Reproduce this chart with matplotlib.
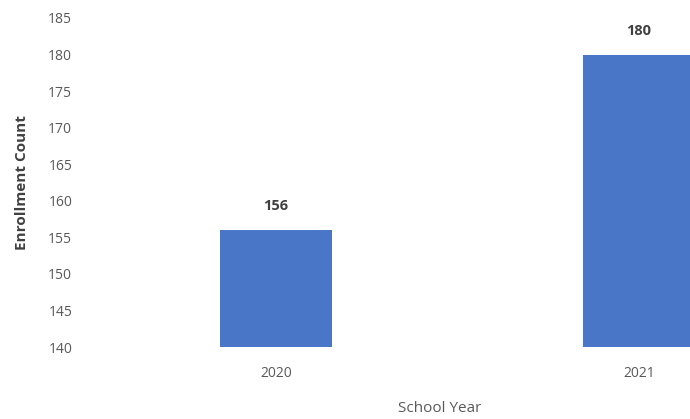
import matplotlib.pyplot as plt

years = ['2020', '2021']
enrollment = [156, 180]

plt.rcParams['font.family'] = ['Open Sans', 'DejaVu Sans']

fig = plt.figure(figsize=(6.9, 4.19), dpi=100)
# plot area runs past the right edge of the picture (cropped screenshot)
ax = fig.add_axes([94.5 / 690, 72 / 419, 726 / 690, 329 / 419])

x = range(len(years))
bars = ax.bar(x, [v - 140 for v in enrollment], bottom=140, width=0.31, color='#4A76C8')

for xi, v in zip(x, enrollment):
    ax.text(xi, v + 2.3, str(v), ha='center', va='bottom', fontsize=10.5,
            color='#404040', fontweight='bold')

ax.set_xlim(-0.5, 1.5)
ax.set_ylim(140, 185)
ax.set_yticks(range(140, 186, 5))
ax.set_xticks(list(x))
ax.set_xticklabels(years)
ax.tick_params(axis='both', length=0, labelsize=10, colors='#595959')
ax.tick_params(axis='x', pad=14)
ax.tick_params(axis='y', pad=16)
for s in ax.spines.values():
    s.set_visible(False)

ax.set_ylabel('Enrollment Count', fontsize=11, color='#404040', fontweight='bold', labelpad=14)
fig.text(440 / 690, 1 - 408 / 419, 'School Year', ha='center', va='center',
         fontsize=11, color='#595959')

fig.savefig('out.png', dpi=100)
